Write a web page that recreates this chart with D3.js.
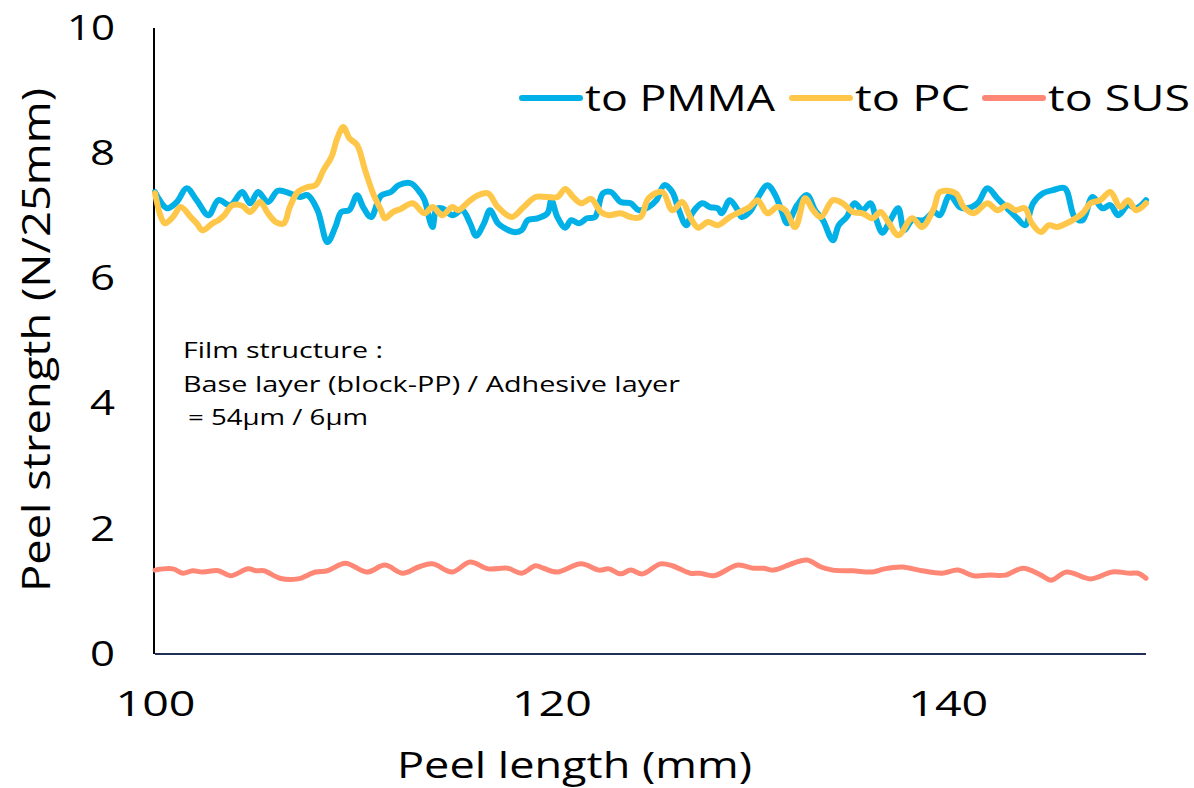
<!DOCTYPE html>
<html>
<head>
<meta charset="utf-8">
<script src="https://cdn.jsdelivr.net/npm/d3@7"></script>
<style>
  body { margin: 0; background: #fff; }
  svg text { font-family: "Open Sans", "Noto Sans", sans-serif; fill: #000; }
</style>
</head>
<body>
<script>
// peel strength readings, [peel length mm, N/25mm]
var pmma = [
  [100.0,7.38],[100.6,7.12],[101.1,7.22],[101.6,7.44],[102.1,7.25],[102.7,7.01],[103.2,7.25],[103.8,7.17],
  [104.4,7.38],[104.8,7.20],[105.2,7.38],[105.7,7.22],[106.2,7.40],[106.8,7.36],[107.3,7.30],[107.7,7.33],
  [108.2,7.09],[108.7,6.58],[109.1,6.82],[109.4,7.06],[109.8,7.09],[110.2,7.33],[110.5,7.14],[110.9,6.98],
  [111.4,7.32],[111.9,7.38],[112.3,7.49],[112.9,7.52],[113.4,7.36],[113.6,7.25],[114.0,6.82],[114.2,7.11],
  [114.5,7.12],[115.0,7.01],[115.5,7.09],[115.9,6.88],[116.2,6.68],[116.6,6.88],[116.9,7.09],[117.3,6.88],
  [117.6,6.81],[118.1,6.74],[118.5,6.77],[118.8,6.93],[119.3,6.96],[119.8,7.04],[120.0,7.25],[120.3,6.98],
  [120.7,6.81],[121.0,6.93],[121.4,6.88],[121.8,6.96],[122.2,6.98],[122.6,7.36],[123.0,7.38],[123.5,7.22],
  [124.0,7.20],[124.4,7.09],[124.9,7.14],[125.3,7.25],[125.7,7.49],[126.1,7.38],[126.4,7.12],[126.8,6.85],
  [127.1,7.04],[127.6,7.20],[128.0,7.14],[128.4,7.12],[128.6,7.04],[129.0,7.25],[129.4,7.09],[129.6,6.98],
  [130.0,7.06],[130.4,7.28],[130.9,7.49],[131.3,7.33],[131.6,7.09],[131.9,6.88],[132.4,7.17],[132.9,7.33],
  [133.3,7.09],[133.7,6.93],[134.2,6.61],[134.5,6.85],[134.9,6.98],[135.3,7.20],[135.7,7.09],[136.1,7.20],
  [136.4,6.93],[136.7,6.73],[137.1,6.93],[137.5,7.12],[137.8,6.77],[138.2,6.93],[138.8,6.93],[139.3,7.06],
  [139.6,7.01],[140.1,7.33],[140.6,7.14],[141.0,7.12],[141.5,7.20],[142.0,7.44],[142.5,7.28],[143.0,7.12],
  [143.5,6.96],[143.9,6.85],[144.3,7.20],[144.8,7.36],[145.3,7.41],[145.9,7.44],[146.4,6.98],[146.8,6.93],
  [147.3,7.30],[147.8,7.12],[148.2,7.17],[148.6,7.01],[149.1,7.17],[149.5,7.12],[150.0,7.25]
];

var pc = [
  [100.0,7.36],[100.3,6.98],[100.5,6.88],[100.9,6.98],[101.3,7.14],[101.8,6.98],[102.1,6.88],[102.4,6.77],
  [102.9,6.88],[103.2,6.93],[103.5,7.01],[103.9,7.17],[104.4,7.16],[104.8,7.06],[105.3,7.22],[105.7,7.04],
  [106.1,6.90],[106.5,6.88],[106.8,7.14],[107.2,7.38],[107.7,7.46],[108.1,7.49],[108.5,7.73],[108.9,7.94],
  [109.2,8.24],[109.5,8.42],[109.8,8.24],[110.2,8.13],[110.6,7.73],[111.0,7.36],[111.4,7.09],[111.6,6.96],
  [112.0,7.06],[112.4,7.11],[113.0,7.20],[113.6,7.04],[114.0,7.14],[114.5,7.01],[115.0,7.14],[115.3,7.09],
  [115.8,7.22],[116.3,7.33],[116.8,7.36],[117.3,7.14],[118.0,6.98],[118.6,7.14],[119.2,7.30],[119.8,7.30],
  [120.3,7.30],[120.7,7.43],[121.1,7.30],[121.5,7.20],[122.0,7.27],[122.5,7.06],[122.9,7.01],[123.5,7.04],
  [124.0,6.98],[124.5,6.98],[124.9,7.28],[125.6,7.38],[126.1,7.09],[126.6,7.22],[127.0,6.98],[127.4,6.81],
  [127.9,6.90],[128.4,6.85],[129.0,6.98],[129.5,7.06],[130.0,7.14],[130.4,7.25],[130.9,7.04],[131.4,7.14],
  [131.8,7.09],[132.3,6.82],[132.8,7.28],[133.2,7.09],[133.6,6.98],[134.2,7.25],[134.7,7.20],[135.2,7.06],
  [135.7,7.04],[136.2,6.96],[136.6,7.06],[137.0,6.90],[137.5,6.69],[138.2,6.96],[138.7,6.82],[139.3,7.12],
  [139.6,7.38],[140.4,7.36],[140.8,7.14],[141.3,7.04],[142.0,7.20],[142.5,7.09],[143.0,7.17],[143.4,7.09],
  [143.9,7.12],[144.2,6.90],[144.7,6.74],[145.1,6.85],[145.5,6.82],[146.0,6.88],[146.3,6.93],[146.8,7.04],
  [147.2,7.20],[147.7,7.25],[148.2,7.38],[148.7,7.14],[149.1,7.25],[149.5,7.09],[150.0,7.20]
];

var sus = [
  [100.0,1.34],[100.9,1.36],[101.4,1.29],[101.9,1.33],[102.4,1.31],[103.2,1.33],[103.8,1.25],[104.7,1.36],
  [105.1,1.33],[105.5,1.33],[106.3,1.21],[107.2,1.20],[108.1,1.31],[108.7,1.33],[109.6,1.45],[110.7,1.31],
  [111.6,1.42],[112.5,1.29],[113.3,1.39],[114.0,1.44],[115.0,1.31],[115.9,1.47],[116.8,1.36],[117.8,1.37],
  [118.5,1.29],[119.2,1.41],[119.6,1.37],[120.3,1.31],[121.5,1.44],[122.4,1.34],[122.9,1.36],[123.5,1.28],
  [124.0,1.34],[124.6,1.28],[125.5,1.44],[126.1,1.41],[127.0,1.29],[127.5,1.29],[128.2,1.25],[129.4,1.42],
  [130.2,1.37],[130.7,1.37],[131.2,1.34],[132.2,1.45],[132.9,1.50],[133.6,1.39],[134.2,1.34],[135.2,1.33],
  [136.2,1.31],[136.8,1.36],[137.7,1.39],[138.7,1.33],[139.7,1.29],[140.5,1.34],[141.3,1.25],[142.1,1.26],
  [142.9,1.26],[143.8,1.37],[144.7,1.26],[145.2,1.18],[146.0,1.31],[147.2,1.20],[148.3,1.31],[149.2,1.29],
  [149.6,1.29],[150.0,1.21]
];

var seriesNames = ["to PMMA", "to PC", "to SUS"];
var xTicks = [100, 120, 140];
var yTicks = [0, 2, 4, 6, 8, 10];
var noteLines = ["Film structure :", "Base layer (block-PP) / Adhesive layer", " = 54\u03bcm / 6\u03bcm"];

var width = 1194;
var height = 788;
var mLeft = 155, mRight = 1146, mTop = 28, mBottom = 654;

var colors = ["#00B0E6", "#FFC749", "#FF8775"];

// the source font is a wide one, so stretch text to the measured widths
var stretch = function(sel, len){
  sel.attr("textLength", len).attr("lengthAdjust", "spacingAndGlyphs");
};

var svg = d3.select("body")
            .append("svg")
            .attr("width", width)
            .attr("height", height);

var xScale = d3.scaleLinear()
               .domain([100, 150])
               .range([mLeft, mRight]);

var yScale = d3.scaleLinear()
               .domain([0, 10])
               .range([mBottom, mTop]);

// axes, no tick marks
var xAxis = svg.append("g")
               .attr("transform", "translate(0," + mBottom + ")")
               .call(d3.axisBottom(xScale).tickValues(xTicks).tickSize(0).tickPadding(37));
xAxis.select(".domain").remove();
xAxis.selectAll("text")
     .attr("font-size", 35)
     .style("font-family", "'Open Sans', sans-serif")
     .attr("fill", "#000")
     .call(stretch, 80);

var yAxis = svg.append("g")
               .attr("transform", "translate(" + mLeft + ",0)")
               .call(d3.axisLeft(yScale).tickValues(yTicks).tickSize(0).tickPadding(40));
yAxis.select(".domain").remove();
yAxis.selectAll("text")
     .attr("font-size", 35)
     .style("font-family", "'Open Sans', sans-serif")
     .attr("fill", "#000")
     .each(function(d){
       d3.select(this).call(stretch, d >= 10 ? 48 : 25);
     });

svg.append("line")
   .attr("x1", mLeft - 1).attr("x2", mLeft - 1)
   .attr("y1", mTop).attr("y2", mBottom)
   .attr("stroke", "#000").attr("stroke-width", 2);

svg.append("line")
   .attr("x1", mLeft).attr("x2", mRight)
   .attr("y1", mBottom).attr("y2", mBottom)
   .attr("stroke", "#1F2F55").attr("stroke-width", 2);

// lines
var line = d3.line()
             .x(function(d){ return xScale(d[0]); })
             .y(function(d){ return yScale(d[1]); })
             .curve(d3.curveCatmullRom.alpha(0.5));

var allSeries = [pmma, pc, sus];
var widths = [6, 6, 5];

svg.selectAll(".series")
   .data(allSeries)
   .enter()
   .append("path")
   .attr("class", "series")
   .attr("d", line)
   .attr("fill", "none")
   .attr("stroke", function(d, i){ return colors[i]; })
   .attr("stroke-width", function(d, i){ return widths[i]; })
   .attr("stroke-linejoin", "round")
   .attr("stroke-linecap", "round");

// legend
var legendX = [522, 792, 985];
var legendLen = [190, 115, 142];
var legend = svg.selectAll(".legend")
                .data(seriesNames)
                .enter()
                .append("g")
                .attr("class", "legend")
                .attr("transform", function(d, i){ return "translate(" + legendX[i] + ",98)"; });

legend.append("line")
      .attr("x1", 0).attr("x2", 58)
      .attr("stroke", function(d, i){ return colors[i]; })
      .attr("stroke-width", 6)
      .attr("stroke-linecap", "round");

legend.append("text")
      .attr("x", 63)
      .attr("y", 13)
      .attr("font-size", 37)
      .text(function(d){ return d; })
      .each(function(d, i){
        d3.select(this).call(stretch, legendLen[i]);
      });

// note
var noteLen = [200, 497, 180];
var noteX = [183, 183, 188];
svg.selectAll(".note")
   .data(noteLines)
   .enter()
   .append("text")
   .attr("class", "note")
   .attr("x", function(d, i){ return noteX[i]; })
   .attr("y", function(d, i){ return 358 + i * 33.5; })
   .attr("font-size", 22)
   .text(function(d){ return d.trim(); })
   .each(function(d, i){
     d3.select(this).call(stretch, noteLen[i]);
   });

// axis titles
svg.append("text")
   .attr("x", 397)
   .attr("y", 778)
   .attr("font-size", 37)
   .text("Peel length (mm)")
   .call(stretch, 355);

svg.append("text")
   .attr("transform", "translate(50,592) rotate(-90)")
   .attr("font-size", 38)
   .text("Peel strength (N/25mm)")
   .call(stretch, 504);
</script>
</body>
</html>
